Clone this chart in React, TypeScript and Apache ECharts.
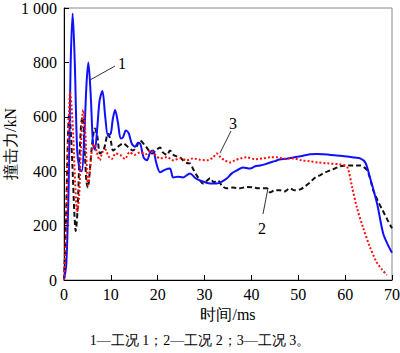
import React, { useEffect, useRef } from "react";
import * as echarts from "echarts";

// Time (ms) and impact force (kN) for each working condition
const t1 = [0, 0.5, 1.0, 1.4, 1.85, 2.3, 2.8, 3.3, 3.8, 4.3, 4.8, 5.2, 5.7, 6.2, 6.6, 7.1, 7.6, 8.2, 8.8, 9.4, 10.0, 10.4, 10.9, 11.5, 12.1, 12.6, 13.2, 13.8, 14.5, 15.2, 15.8, 16.3, 17.0, 17.7, 18.4, 19.0, 19.7, 20.5, 21.5, 22.6, 23.3, 24.3, 25.4, 26.9, 28, 29, 30, 31.2, 32.6, 33.7, 34.8, 35.8, 36.9, 38.2, 39.7, 40.8, 41.8, 43, 44, 45, 46, 47.5, 48.9, 50.5, 52.5, 54, 55.3, 57, 58.8, 60.4, 62, 63.2, 64.3, 65.3, 66.8, 68.1, 69.1, 70];
const f1 = [0, 60, 350, 780, 980, 800, 480, 410, 400, 520, 720, 800, 680, 500, 480, 560, 660, 695, 600, 530, 540, 590, 625, 580, 520, 525, 550, 540, 500, 490, 505, 500, 450, 440, 470, 476, 430, 396, 405, 410, 377, 380, 377, 392, 375, 366, 360, 355, 355, 362, 374, 392, 403, 414, 410, 418, 421, 426, 432, 437, 443, 446, 450, 455, 462, 463, 462, 460, 457, 454, 450, 447, 432, 377, 282, 172, 130, 100];

const t2 = [0, 0.4, 0.8, 1.1, 1.4, 1.8, 2.2, 2.5, 2.9, 3.3, 3.7, 4.0, 4.4, 4.8, 5.1, 5.5, 6.0, 6.6, 7.1, 7.7, 8.5, 9.4, 10.0, 10.5, 11.5, 12.6, 13.6, 14.7, 15.5, 16.2, 17.5, 18.8, 19.7, 20.5, 21.1, 22, 22.6, 23.5, 24.8, 25.4, 26.2, 26.9, 27.5, 28.5, 29.7, 30.5, 31.2, 32, 32.8, 33.8, 34.8, 36, 37.5, 39, 40.3, 41.5, 43.3, 44, 45, 46.1, 47, 48.2, 49.2, 50.4, 51.5, 52.5, 53.5, 54.6, 55.7, 56.8, 57.8, 58.9, 60, 61, 62, 63.2, 64, 64.7, 65.3, 66, 67, 68, 69, 70];
const f2 = [0, 200, 500, 610, 560, 420, 250, 180, 260, 450, 580, 600, 480, 360, 340, 400, 500, 557, 530, 465, 480, 538, 510, 476, 490, 502, 490, 476, 490, 513, 490, 465, 478, 487, 469, 460, 476, 458, 451, 440, 430, 429, 410, 380, 355, 365, 374, 359, 366, 345, 337, 340, 337, 342, 341, 337, 337, 322, 330, 330, 325, 337, 330, 333, 345, 359, 375, 385, 395, 403, 410, 418, 420, 421, 421, 421, 415, 403, 375, 330, 290, 256, 222, 190];

const t3 = [0, 0.4, 0.8, 1.1, 1.3, 1.6, 2.0, 2.4, 2.8, 3.2, 3.6, 4.1, 4.5, 4.9, 5.1, 5.4, 5.9, 6.4, 7.0, 7.6, 8.2, 8.8, 9.5, 10.2, 11, 12, 13, 14, 15, 16.2, 17.5, 18.5, 19.5, 20.5, 22, 23.3, 24.8, 26.2, 27.5, 29, 30.5, 31.8, 32.6, 33.4, 34.3, 35.4, 36.5, 37.6, 39, 40.8, 42.5, 44, 45.4, 47, 48.9, 50.7, 52.5, 54.3, 56.1, 58.9, 60, 60.6, 61.5, 62.5, 63.8, 65.3, 66.7, 67.8, 68.9];
const f3 = [0, 150, 450, 620, 690, 640, 520, 350, 250, 300, 480, 625, 560, 400, 350, 380, 470, 500, 470, 440, 470, 480, 455, 445, 465, 460, 445, 470, 460, 469, 462, 476, 460, 447, 452, 440, 448, 440, 447, 442, 440, 450, 465, 451, 440, 432, 440, 447, 451, 444, 447, 451, 451, 446, 447, 440, 436, 432, 429, 425, 420, 410, 341, 267, 194, 121, 66, 40, 18];

const xTicks = [0, 10, 20, 30, 40, 50, 60, 70];
const yTicks = [0, 200, 400, 600, 800, 1000];
const caption = "1—工况 1；2—工况 2；3—工况 3。";

const pair = (t: number[], f: number[]) => t.map((x, i) => [x, f[i]]);

const FONT = "Liberation Serif";

export default function App() {
  const ref = useRef<HTMLDivElement>(null);
  useEffect(() => {
    if (!ref.current) return;
    const chart = echarts.init(ref.current, null, { renderer: "svg" });
    chart.setOption({
      animation: false,
      backgroundColor: "#ffffff",
      textStyle: { fontFamily: FONT },
      grid: {
        left: 64,
        right: 8,
        top: 8,
        bottom: 73,
        show: true,
        borderColor: "#888888",
        borderWidth: 1,
        outerBoundsMode: "none",
        containLabel: false,
      },
      xAxis: {
        type: "value",
        min: xTicks[0],
        max: xTicks[xTicks.length - 1],
        interval: 10,
        name: "时间/ms",
        nameLocation: "middle",
        nameGap: 26,
        nameMoveOverlap: false,
        nameTextStyle: { fontFamily: FONT, fontSize: 16, color: "#000" },
        axisLine: { show: true, lineStyle: { color: "#000", width: 1 } },
        axisTick: { show: true, inside: true, length: 5, lineStyle: { color: "#000" } },
        axisLabel: { fontFamily: FONT, fontSize: 16, color: "#000", margin: 6 },
        splitLine: { show: false },
      },
      yAxis: {
        type: "value",
        min: yTicks[0],
        max: yTicks[yTicks.length - 1],
        interval: 200,
        name: "撞击力/kN",
        nameLocation: "middle",
        nameGap: 46,
        nameRotate: 90,
        nameMoveOverlap: false,
        nameTextStyle: { fontFamily: FONT, fontSize: 16, color: "#000" },
        axisLine: { show: true, lineStyle: { color: "#000", width: 1 } },
        axisTick: { show: true, inside: true, length: 5, lineStyle: { color: "#000" } },
        axisLabel: {
          fontFamily: FONT,
          fontSize: 16,
          color: "#000",
          margin: 7,
          formatter: (v: number) => (v >= 1000 ? "1 000" : String(v)),
        },
        splitLine: { show: false },
      },
      series: [
        {
          name: "1",
          type: "line",
          data: pair(t1, f1),
          showSymbol: false,
          smooth: 0.3,
          lineStyle: { color: "#1010ff", width: 2 },
          z: 3,
        },
        {
          name: "2",
          type: "line",
          data: pair(t2, f2),
          showSymbol: false,
          smooth: 0.3,
          lineStyle: { color: "#111111", width: 2, type: [5, 3] },
          z: 2,
        },
        {
          name: "3",
          type: "line",
          data: pair(t3, f3),
          showSymbol: false,
          smooth: 0.3,
          lineStyle: { color: "#ff1010", width: 2, type: [2, 2] },
          z: 4,
        },
      ],
      graphic: [
        { type: "line", shape: { x1: 115, y1: 66, x2: 90, y2: 80 }, style: { stroke: "#333", lineWidth: 1 } },
        { type: "text", x: 118, y: 63, style: { text: "1", font: `16px ${FONT}`, fill: "#000", verticalAlign: "middle" } },
        { type: "line", shape: { x1: 231, y1: 131, x2: 220, y2: 153 }, style: { stroke: "#333", lineWidth: 1 } },
        { type: "text", x: 233, y: 123, style: { text: "3", font: `16px ${FONT}`, fill: "#000", align: "center", verticalAlign: "middle" } },
        { type: "line", shape: { x1: 268, y1: 188, x2: 263, y2: 214 }, style: { stroke: "#333", lineWidth: 1 } },
        { type: "text", x: 262, y: 228, style: { text: "2", font: `16px ${FONT}`, fill: "#000", align: "center", verticalAlign: "middle" } },
        { type: "text", x: 200, y: 340, style: { text: caption, font: `14px ${FONT}`, fill: "#000", align: "center", verticalAlign: "middle" } },
      ],
    });
    return () => chart.dispose();
  }, []);
  return <div ref={ref} style={{ width: 400, height: 353, position: "absolute", left: 0, top: 0 }} />;
}
